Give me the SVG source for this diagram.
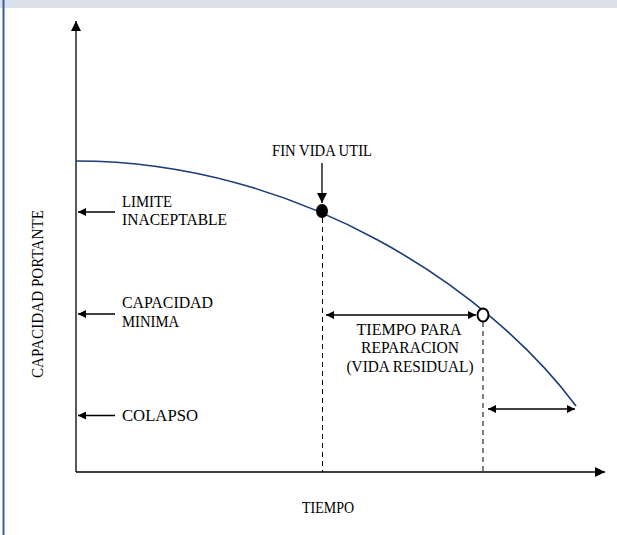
<svg xmlns="http://www.w3.org/2000/svg" width="617" height="535" viewBox="0 0 617 535">
<defs>
<marker id="ah" viewBox="0 0 10 10" refX="10" refY="5" markerWidth="10" markerHeight="8" markerUnits="userSpaceOnUse" orient="auto-start-reverse">
<path d="M0,0 L10,5 L0,10 Z" fill="#000"/>
</marker>
<marker id="ahBig" viewBox="0 0 10 10" refX="10" refY="5" markerWidth="13" markerHeight="10" markerUnits="userSpaceOnUse" orient="auto-start-reverse">
<path d="M0,0 L10,5 L0,10 Z" fill="#000"/>
</marker>
</defs>
<style>
text{font-family:"Liberation Serif","Times New Roman",serif;font-size:17px;fill:#000}
.ln{stroke:#000;stroke-width:1.3;fill:none}
.dash{stroke:#000;stroke-width:1;stroke-dasharray:5 4;fill:none}
.curve{stroke:#1b3d78;stroke-width:1.6;fill:none}
</style>
<rect x="0" y="0" width="617" height="535" fill="#fff"/>
<rect x="0" y="0" width="617" height="8" fill="#dbe1ea"/>
<line x1="3.5" y1="0" x2="3.5" y2="535" stroke="#3b5f98" stroke-width="2"/>

<g id="connectors">
<line class="ln" x1="76" y1="472" x2="76" y2="21" marker-end="url(#ahBig)"/>
<line class="ln" x1="76" y1="472" x2="605" y2="472" marker-end="url(#ahBig)"/>
<path class="curve" d="M76,161 C300,161 490,290 576,406"/>
<line class="dash" x1="322.5" y1="218" x2="322.5" y2="472"/>
<line class="dash" x1="483" y1="322" x2="483" y2="472"/>
<line class="ln" x1="115" y1="212" x2="78" y2="212" marker-end="url(#ah)"/>
<line class="ln" x1="115" y1="314" x2="78" y2="314" marker-end="url(#ah)"/>
<line class="ln" x1="115" y1="415.5" x2="78" y2="415.5" marker-end="url(#ah)"/>
<line class="ln" x1="322" y1="163" x2="322" y2="203" stroke-width="2" marker-end="url(#ahBig)"/>
<line class="ln" x1="326" y1="315" x2="476" y2="315" marker-start="url(#ah)" marker-end="url(#ah)"/>
<line class="ln" x1="488" y1="409" x2="575" y2="409" marker-start="url(#ah)" marker-end="url(#ah)"/>
</g>

<g id="fin-vida-util">
<text x="322" y="156" text-anchor="middle" textLength="100" lengthAdjust="spacingAndGlyphs">FIN VIDA UTIL</text>
<ellipse cx="322" cy="211" rx="6" ry="7" fill="#000"/>
</g>
<g id="punto-reparacion">
<ellipse cx="483" cy="315" rx="5.5" ry="6.5" fill="#fff" stroke="#000" stroke-width="2"/>
</g>
<g id="limite-inaceptable">
<text x="122" y="207" textLength="50" lengthAdjust="spacingAndGlyphs">LIMITE</text>
<text x="122" y="225" textLength="105" lengthAdjust="spacingAndGlyphs">INACEPTABLE</text>
</g>
<g id="capacidad-minima">
<text x="122" y="308" textLength="91" lengthAdjust="spacingAndGlyphs">CAPACIDAD</text>
<text x="122" y="327" textLength="57" lengthAdjust="spacingAndGlyphs">MINIMA</text>
</g>
<g id="colapso">
<text x="122" y="421" textLength="76" lengthAdjust="spacingAndGlyphs">COLAPSO</text>
</g>
<g id="tiempo-reparacion">
<text x="409" y="335" text-anchor="middle" textLength="105" lengthAdjust="spacingAndGlyphs">TIEMPO PARA</text>
<text x="410" y="353" text-anchor="middle" textLength="98" lengthAdjust="spacingAndGlyphs">REPARACION</text>
<text x="410" y="372" text-anchor="middle" textLength="127" lengthAdjust="spacingAndGlyphs">(VIDA RESIDUAL)</text>
</g>
<g id="eje-y">
<text transform="translate(43,294) rotate(-90)" text-anchor="middle" textLength="168" lengthAdjust="spacingAndGlyphs">CAPACIDAD PORTANTE</text>
</g>
<g id="eje-x">
<text x="328" y="513" text-anchor="middle" textLength="52" lengthAdjust="spacingAndGlyphs">TIEMPO</text>
</g>
</svg>
